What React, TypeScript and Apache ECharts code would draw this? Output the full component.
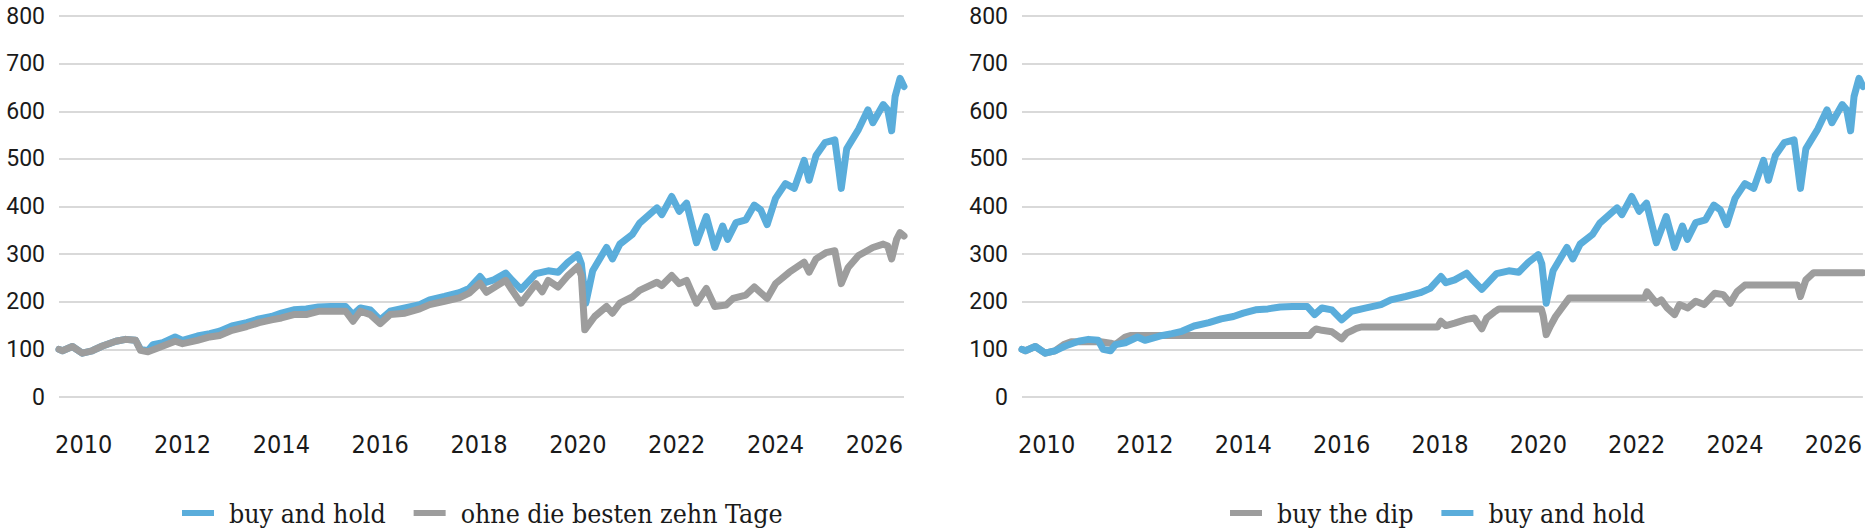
import React, { useEffect, useRef } from "react";
import * as echarts from "echarts";

// ---- data ----
const bhYears = [2009.5, 2009.57, 2009.77, 2009.97, 2010.17, 2010.38, 2010.65, 2010.85, 2011.05, 2011.15, 2011.3, 2011.4, 2011.6, 2011.85, 2012.0, 2012.3, 2012.55, 2012.75, 2013.0, 2013.3, 2013.55, 2013.8, 2014.0, 2014.25, 2014.5, 2014.75, 2015.0, 2015.3, 2015.45, 2015.6, 2015.8, 2016.0, 2016.2, 2016.5, 2016.8, 2017.0, 2017.3, 2017.6, 2017.8, 2018.02, 2018.12, 2018.3, 2018.54, 2018.67, 2018.85, 2019.15, 2019.4, 2019.6, 2019.8, 2020.0, 2020.07, 2020.16, 2020.3, 2020.58, 2020.7, 2020.85, 2021.1, 2021.25, 2021.6, 2021.7, 2021.9, 2022.05, 2022.2, 2022.4, 2022.6, 2022.77, 2022.93, 2023.03, 2023.2, 2023.4, 2023.57, 2023.7, 2023.83, 2024.0, 2024.2, 2024.38, 2024.58, 2024.68, 2024.82, 2025.0, 2025.2, 2025.27, 2025.33, 2025.44, 2025.68, 2025.87, 2025.97, 2026.18, 2026.27, 2026.35, 2026.42, 2026.52, 2026.6];
const bhValues = [100, 97, 106, 92, 97, 107, 117, 121, 119, 100, 97, 110, 114, 126, 119, 128, 133, 138, 149, 156, 164, 169, 176, 183, 185, 189, 190, 190, 173, 187, 183, 162, 180, 187, 194, 204, 211, 219, 228, 253, 240, 246, 260, 245, 226, 259, 265, 262, 283, 299, 280, 197, 265, 314, 290, 321, 341, 365, 397, 383, 421, 390, 407, 324, 379, 314, 359, 331, 366, 372, 403, 393, 362, 417, 448, 438, 497, 455, 507, 534, 540, 486, 438, 521, 562, 603, 576, 614, 603, 559, 631, 669, 652];

const ohneYears = [2009.5, 2009.57, 2009.77, 2009.97, 2010.17, 2010.38, 2010.65, 2010.85, 2011.05, 2011.15, 2011.3, 2011.5, 2011.85, 2012.0, 2012.3, 2012.55, 2012.75, 2013.0, 2013.3, 2013.55, 2013.8, 2014.0, 2014.25, 2014.5, 2014.75, 2015.0, 2015.3, 2015.45, 2015.6, 2015.8, 2016.0, 2016.2, 2016.5, 2016.8, 2017.0, 2017.3, 2017.6, 2017.8, 2018.02, 2018.15, 2018.54, 2018.67, 2018.85, 2019.15, 2019.28, 2019.4, 2019.6, 2019.8, 2020.0, 2020.07, 2020.14, 2020.34, 2020.58, 2020.7, 2020.85, 2021.1, 2021.25, 2021.6, 2021.7, 2021.9, 2022.05, 2022.2, 2022.4, 2022.6, 2022.77, 2023.0, 2023.14, 2023.4, 2023.57, 2023.83, 2024.0, 2024.28, 2024.58, 2024.68, 2024.82, 2025.02, 2025.2, 2025.33, 2025.47, 2025.68, 2025.97, 2026.18, 2026.27, 2026.35, 2026.45, 2026.52, 2026.6];
const ohneValues = [100, 97, 106, 92, 97, 107, 117, 121, 119, 98, 95, 103, 117, 112, 119, 126, 129, 140, 148, 156, 162, 166, 173, 173, 180, 180, 180, 159, 180, 173, 154, 173, 176, 185, 194, 201, 208, 218, 239, 220, 245, 224, 197, 238, 221, 245, 231, 255, 274, 255, 141, 169, 190, 176, 197, 210, 224, 241, 234, 255, 238, 245, 197, 228, 190, 193, 207, 214, 231, 207, 238, 262, 283, 262, 290, 303, 307, 238, 272, 297, 314, 321, 317, 290, 331, 345, 338];

const dipYears = [2009.5, 2009.57, 2009.77, 2009.97, 2010.17, 2010.35, 2010.5, 2011.1, 2011.3, 2011.4, 2011.5, 2011.6, 2011.7, 2015.35, 2015.42, 2015.48, 2015.6, 2015.8, 2016.0, 2016.1, 2016.2, 2016.3, 2016.4, 2017.95, 2018.02, 2018.12, 2018.3, 2018.54, 2018.7, 2018.85, 2018.95, 2019.1, 2019.2, 2020.06, 2020.1, 2020.16, 2020.25, 2020.35, 2020.5, 2020.63, 2022.16, 2022.21, 2022.4, 2022.5, 2022.62, 2022.77, 2022.87, 2023.04, 2023.2, 2023.37, 2023.59, 2023.76, 2023.9, 2024.04, 2024.2, 2025.27, 2025.33, 2025.44, 2025.6, 2026.6];
const dipValues = [100, 97, 106, 92, 97, 110, 116, 116, 113, 110, 118, 126, 129, 129, 138, 143, 140, 137, 122, 134, 139, 144, 147, 147, 159, 150, 155, 163, 166, 143, 166, 178, 185, 185, 170, 131, 150, 169, 190, 208, 208, 221, 197, 204, 187, 173, 194, 187, 201, 194, 218, 215, 197, 221, 235, 235, 211, 246, 261, 261];

const xTickYears = [2010, 2012, 2014, 2016, 2018, 2020, 2022, 2024, 2026];
const yMin = 0;
const yMax = 800;
const yStep = 100;

const BLUE = "#5aaddb";
const GRAY = "#9d9d9d";

const zip = (xs: number[], ys: number[]) => xs.map((x, i) => [x, ys[i]]);

export default function App() {
  const ref = useRef<HTMLDivElement>(null);

  useEffect(() => {
    document.body.style.margin = "0";
    if (!ref.current) return;
    const chart = echarts.init(ref.current, undefined, { renderer: "svg" });

    const xAxisBase = (gridIndex: number) => ({
      type: "value" as const,
      gridIndex,
      min: 2009.5,
      max: 2026.6,
      axisLine: { show: false },
      axisTick: { show: false },
      splitLine: { show: false },
      axisLabel: {
        customValues: xTickYears,
        formatter: (v: number) => String(Math.round(v)),
        margin: 35,
        fontSize: 25,
        color: "#1a1a1a",
        fontFamily: "'DejaVu Sans Condensed', 'Liberation Sans Narrow', sans-serif",
      },
    });
    const yAxisBase = (gridIndex: number) => ({
      type: "value" as const,
      gridIndex,
      min: yMin,
      max: yMax,
      interval: yStep,
      axisLine: { show: false },
      axisTick: { show: false },
      splitLine: { show: true, lineStyle: { color: "#d9d9d9", width: 2 } },
      axisLabel: {
        margin: 14,
        fontSize: 23,
        lineHeight: 20,
        color: "#1a1a1a",
        fontFamily: "Roboto, sans-serif",
      },
    });
    const lineSeries = (name: string, data: number[][], color: string, idx: number) => ({
      name,
      type: "line" as const,
      xAxisIndex: idx,
      yAxisIndex: idx,
      data,
      showSymbol: false,
      symbol: "none",
      lineStyle: { color, width: 7, join: "round", cap: "round" },
      itemStyle: { color },
      emphasis: { disabled: true },
    });
    const legendText = {
      fontSize: 26.5,
      lineHeight: 28,
      color: "#1a1a1a",
      fontFamily: "'DejaVu Serif Condensed', 'DejaVu Serif', serif",
      padding: [0, 0, 0, 10],
    };

    chart.setOption({
      animation: false,
      grid: [
        { left: 59, top: 16, width: 845, height: 381 },
        { left: 1022, top: 16, width: 843, height: 381 },
      ],
      xAxis: [xAxisBase(0), xAxisBase(1)],
      yAxis: [yAxisBase(0), yAxisBase(1)],
      legend: [
        {
          left: 177,
          top: 494,
          itemWidth: 32,
          itemHeight: 6,
          itemGap: 28,
          icon: "rect",
          data: ["buy and hold", "ohne die besten zehn Tage"],
          textStyle: legendText,
          selectedMode: false,
        },
        {
          left: 1225,
          top: 494,
          itemWidth: 32,
          itemHeight: 6,
          itemGap: 28,
          icon: "rect",
          data: ["buy the dip", "buy and hold"],
          textStyle: legendText,
          selectedMode: false,
        },
      ],
      series: [
        lineSeries("buy and hold", zip(bhYears, bhValues), BLUE, 0),
        lineSeries("ohne die besten zehn Tage", zip(ohneYears, ohneValues), GRAY, 0),
        lineSeries("buy the dip", zip(dipYears, dipValues), GRAY, 1),
        lineSeries("buy and hold", zip(bhYears, bhValues), BLUE, 1),
      ],
    });

    return () => chart.dispose();
  }, []);

  return <div ref={ref} style={{ width: 1865, height: 529 }} />;
}
